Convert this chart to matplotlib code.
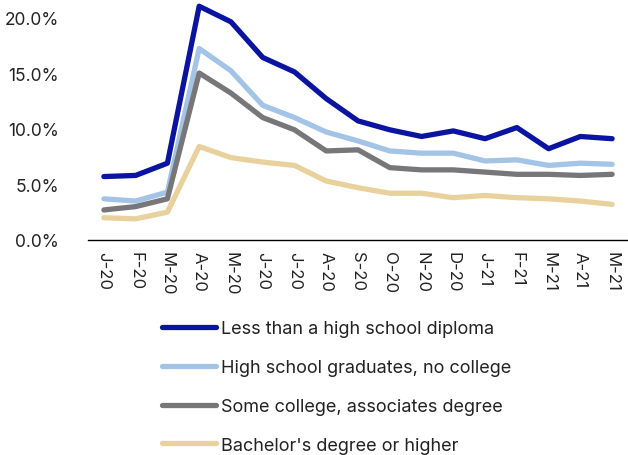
import numpy as np
import matplotlib
matplotlib.use("Agg")
import matplotlib.pyplot as plt
from matplotlib.ticker import PercentFormatter

# Monthly unemployment rate by educational attainment (%)
months = ["J-20", "F-20", "M-20", "A-20", "M-20", "J-20", "J-20", "A-20", "S-20",
          "O-20", "N-20", "D-20", "J-21", "F-21", "M-21", "A-21", "M-21"]
less_than_hs = [5.7, 5.8, 6.9, 21.0, 19.6, 16.4, 15.1, 12.7, 10.7,
                9.9, 9.3, 9.8, 9.1, 10.1, 8.2, 9.3, 9.1]
hs_no_college = [3.7, 3.5, 4.3, 17.2, 15.2, 12.1, 11.0, 9.7, 8.9,
                 8.0, 7.8, 7.8, 7.1, 7.2, 6.7, 6.9, 6.8]
some_college = [2.7, 3.0, 3.7, 15.0, 13.2, 11.0, 9.9, 8.0, 8.1,
                6.5, 6.3, 6.3, 6.1, 5.9, 5.9, 5.8, 5.9]
bachelors = [2.0, 1.9, 2.5, 8.4, 7.4, 7.0, 6.7, 5.3, 4.7,
             4.2, 4.2, 3.8, 4.0, 3.8, 3.7, 3.5, 3.2]

series = [
    ("Less than a high school diploma", less_than_hs, "#0a14a0"),
    ("High school graduates, no college", hs_no_college, "#a3c4e6"),
    ("Some college, associates degree", some_college, "#777779"),
    ("Bachelor's degree or higher", bachelors, "#e8d19c"),
]

plt.rcParams["font.family"] = ["Inter", "DejaVu Sans"]

W, H = 628, 456
fig = plt.figure(figsize=(W / 100, H / 100), dpi=100)
ax = fig.add_axes([88 / W, (H - 241) / H, (W - 88) / W, 241 / H])

x = np.arange(len(months))
for label, vals, color in series:
    ax.plot(x, np.array(vals) / 100, color=color, lw=3.8, label=label,
            solid_capstyle="round", solid_joinstyle="round")

ax.set_xlim(-0.5, len(months) - 0.5)
ax.set_ylim(0, 0.2165)
ax.set_yticks([0, 0.05, 0.10, 0.15, 0.20])
ax.yaxis.set_major_formatter(PercentFormatter(1.0, decimals=1))
ax.set_xticks(x)
ax.set_xticklabels(months, rotation=270)
ax.tick_params(axis="x", length=0, labelsize=12, colors="#222222", pad=8)
ax.tick_params(axis="y", length=0, labelsize=12.5, colors="#222222", pad=21)

for side in ["top", "right", "left"]:
    ax.spines[side].set_visible(False)
ax.spines["bottom"].set_color("black")
ax.spines["bottom"].set_linewidth(1.0)

fig.legend(loc="upper left", bbox_to_anchor=(146 / W, 1 - 305 / H),
           frameon=False, fontsize=13, handlelength=2.95, handletextpad=0.33,
           labelspacing=1.21, labelcolor="#222222")

fig.savefig("out.png", dpi=100)
